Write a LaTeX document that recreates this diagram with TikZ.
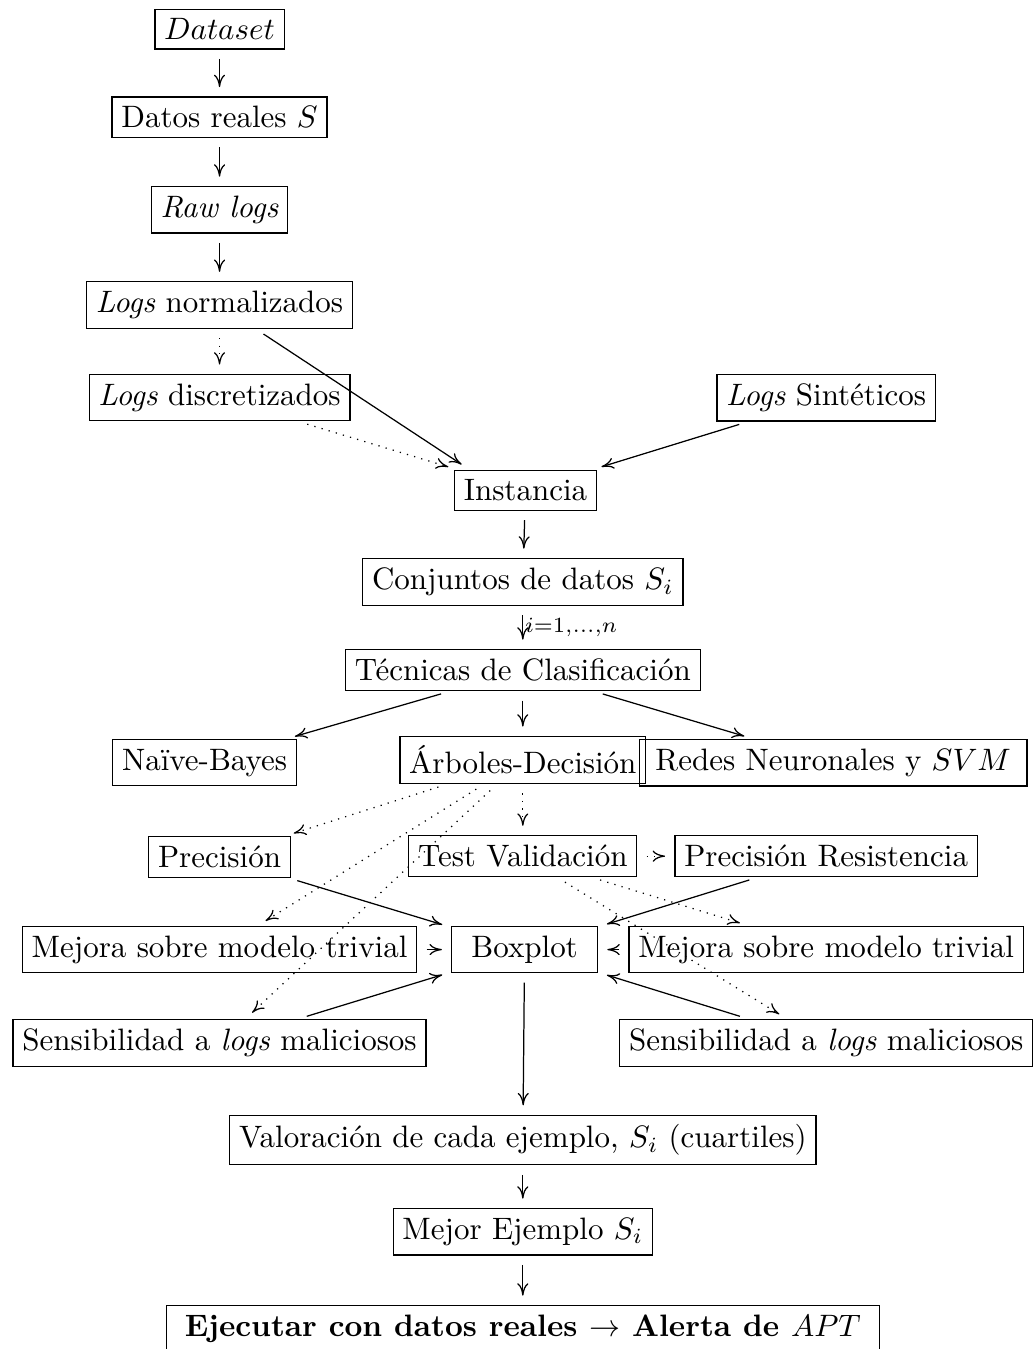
\documentclass[tikz,border=0pt]{standalone}
\usetikzlibrary{arrows.meta}
\begin{document}
\begin{tikzpicture}[
  box/.style={draw, inner sep=3pt},
  flecha/.style={-{Computer Modern Rightarrow[length=4pt,width=3.6pt]}, shorten <=3pt, shorten >=3pt},
  punteada/.style={flecha, dotted}]
  \useasboundingbox (-5.93,0.33) rectangle (5.82,-14.97);
  % columna izquierda y central
  \node[box] (dataset) at (-3.44,0) {$Dataset$};
  \node[box] (reales) at (-3.44,-1.00) {Datos reales $S$};
  \node[box] (raw) at (-3.44,-2.05) {\textit{Raw logs}};
  \node[box] (norm) at (-3.44,-3.13) {\textit{Logs} normalizados};
  \node[box] (disc) at (-3.44,-4.18) {\textit{Logs} discretizados};
  \node[box] (sint) at (3.44,-4.18) {\textit{Logs} Sintéticos};
  \node[box] (inst) at (0.03,-5.23) {Instancia};
  \node[box] (conj) at (0,-6.27) {Conjuntos de datos $S_i$};
  \node[box] (tec) at (0,-7.27) {Técnicas de Clasificación};
  % clasificadores
  \node[box] (bayes) at (-3.61,-8.32) {Naïve-Bayes};
  \node[box] (arbol) at (0,-8.29) {Árboles-Decisión};
  \node[box, minimum width=125pt] (redes) at (3.52,-8.32) {Redes Neuronales y $SVM$};
  % medidas
  \node[box] (prec) at (-3.44,-9.39) {Precisión};
  \node[box] (test) at (0,-9.38) {Test Validación};
  \node[box] (precres) at (3.44,-9.38) {Precisión Resistencia};
  \node[box] (mejoraI) at (-3.44,-10.44) {Mejora sobre modelo trivial};
  \node[box, minimum width=47pt] (boxplot) at (0.02,-10.44) {Boxplot};
  \node[box] (mejoraD) at (3.44,-10.44) {Mejora sobre modelo trivial};
  \node[box] (sensI) at (-3.44,-11.50) {Sensibilidad a \textit{logs} maliciosos};
  \node[box] (sensD) at (3.44,-11.50) {Sensibilidad a \textit{logs} maliciosos};
  % resultado
  \node[box] (valor) at (0,-12.60) {Valoración de cada ejemplo, $S_i$ (cuartiles)};
  \node[box] (mejor) at (0,-13.64) {Mejor Ejemplo $S_i$};
  \node[box, minimum width=230pt] (ejec) at (0,-14.74) {\textbf{Ejecutar con datos reales $\rightarrow$ Alerta de $APT$}};

  \draw[flecha] (dataset) -- (reales);
  \draw[flecha] (reales) -- (raw);
  \draw[flecha] (raw) -- (norm);
  \draw[punteada] (norm) -- (disc);
  \draw[flecha] (norm) -- ([xshift=5pt]inst.north west);
  \draw[punteada] (disc) -- (inst);
  \draw[flecha] (sint) -- (inst);
  \draw[flecha] (inst) -- (conj);
  \draw[flecha] (conj) -- (tec) node[midway, right, inner sep=0.5pt] {$\scriptstyle i=1,\ldots,n$};
  \draw[flecha] (tec) -- (bayes);
  \draw[flecha] (tec) -- (arbol);
  \draw[flecha] (tec) -- (redes);
  \draw[punteada] (arbol) -- (prec);
  \draw[punteada] (arbol) -- (mejoraI);
  \draw[punteada] (arbol) -- (sensI);
  \draw[punteada] (arbol) -- (test);
  \draw[punteada] (test) -- (precres);
  \draw[punteada] (test) -- (mejoraD);
  \draw[punteada] (test) -- (sensD);
  \draw[flecha] (prec) -- (boxplot);
  \draw[flecha] (mejoraI) -- (boxplot);
  \draw[flecha] (sensI) -- (boxplot);
  \draw[flecha] (precres) -- (boxplot);
  \draw[flecha] (mejoraD) -- (boxplot);
  \draw[flecha] (sensD) -- (boxplot);
  \draw[flecha] (boxplot) -- (valor);
  \draw[flecha] (valor) -- (mejor);
  \draw[flecha] (mejor) -- (ejec);
\end{tikzpicture}
\end{document}
